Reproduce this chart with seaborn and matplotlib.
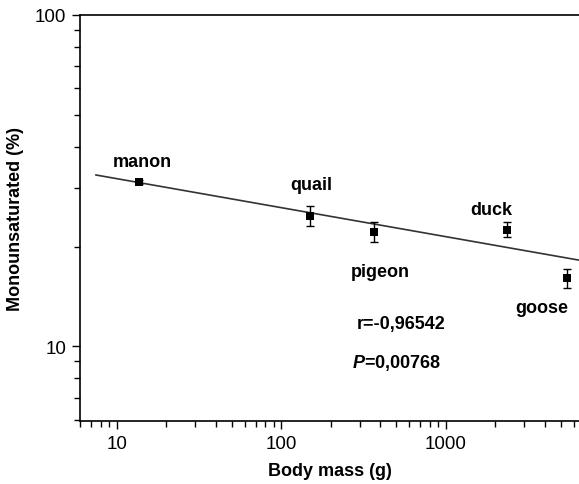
import numpy as np
import pandas as pd
import seaborn as sns
import matplotlib.pyplot as plt

# Data
species = ['manon', 'quail', 'pigeon', 'duck', 'goose']
body_mass = [13.7, 150, 364, 2370, 5480]
mono = [31.3, 24.8, 22.2, 22.5, 16.05]
mono_err = [0.5, 1.7, 1.6, 1.15, 1.05]

# Regression line end points
fit_x = [7.45, 6450]
fit_y = [32.9, 18.2]

r_text = 'r=-0,96542'
p_value = '0,00768'

sns.set_style('ticks')
plt.rcParams['font.family'] = ['Liberation Sans', 'DejaVu Sans']
plt.rcParams['text.color'] = 'black'
plt.rcParams['axes.labelcolor'] = 'black'
plt.rcParams['xtick.color'] = 'black'
plt.rcParams['ytick.color'] = 'black'
plt.rcParams['mathtext.fontset'] = 'custom'
plt.rcParams['mathtext.bfit'] = 'Liberation Sans:italic:bold'

df = pd.DataFrame({'species': species, 'mass': body_mass, 'mono': mono, 'err': mono_err})
fit = pd.DataFrame({'mass': fit_x, 'mono': fit_y})

fig = plt.figure(figsize=(5.79, 4.85), dpi=100)
ax = fig.add_axes([80 / 579, 1 - 422 / 485, 499 / 579, 406 / 485])

sns.lineplot(data=fit, x='mass', y='mono', color='#333333', linewidth=1.2, ax=ax)
ax.errorbar(df['mass'], df['mono'], yerr=df['err'], fmt='none',
            ecolor='black', elinewidth=1.0, capsize=3, capthick=1.0, zorder=3)
sns.scatterplot(data=df, x='mass', y='mono', marker='s', s=30, color='black',
                edgecolor='black', linewidth=0, ax=ax, zorder=4)

ax.set_xscale('log')
ax.set_yscale('log')
ax.set_xlim(5.98, 6450)
ax.set_ylim(5.95, 100)

ax.set_xticks([10, 100, 1000])
ax.set_xticklabels(['10', '100', '1000'])
ax.set_yticks([10, 100])
ax.set_yticklabels(['10', '100'])
ax.tick_params(axis='both', which='major', length=6, width=1.0, labelsize=13.5, pad=4)
ax.tick_params(axis='both', which='minor', length=4, width=1.0)

ax.set_xlabel('Body mass (g)', fontsize=13, fontweight='bold', labelpad=7)
ax.set_ylabel('Monounsaturated (%)', fontsize=13, fontweight='bold', labelpad=8)

for side in ['left', 'bottom', 'top']:
    ax.spines[side].set_color('black')
    ax.spines[side].set_linewidth(1.2)
ax.spines['right'].set_visible(False)

offsets = {'manon': (3, 21), 'quail': (1, 31), 'pigeon': (7, -40),
           'duck': (-16, 20), 'goose': (-26, -29)}
for name, x, y in zip(species, body_mass, mono):
    ax.annotate(name, (x, y), xytext=offsets[name], textcoords='offset pixels',
                ha='center', va='center', fontsize=13, fontweight='bold')

ax.text(0.643, 0.239, r_text, transform=ax.transAxes, ha='center', va='center',
        fontsize=13, fontweight='bold')
ax.text(0.635, 0.145, r'$\bfit{P}$=' + p_value, transform=ax.transAxes, ha='center',
        va='center', fontsize=13, fontweight='bold')

fig.savefig('out.png', dpi=100)
